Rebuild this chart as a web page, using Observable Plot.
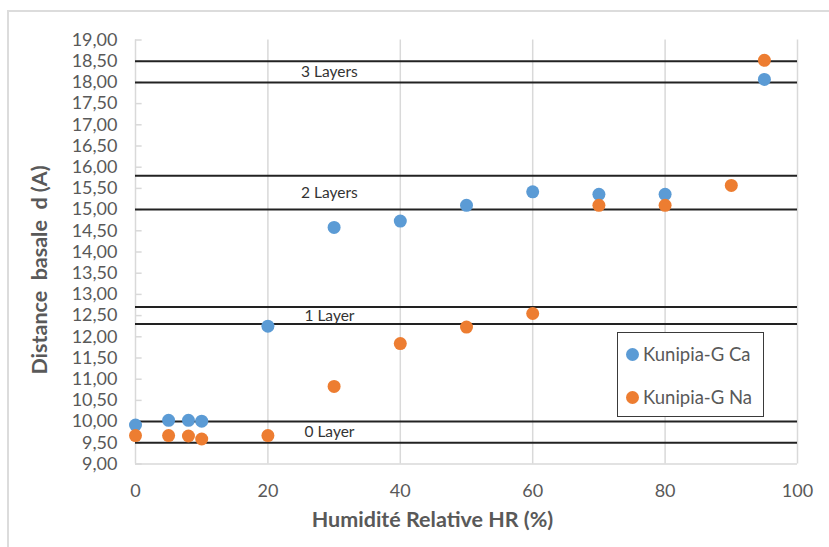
<!DOCTYPE html>
<html>
<head>
<meta charset="utf-8">
<script src="https://cdn.jsdelivr.net/npm/d3@7"></script>
<script src="https://cdn.jsdelivr.net/npm/@observablehq/plot@0.6"></script>
<style>
  html, body { margin: 0; padding: 0; background: #fff; overflow: hidden; }
  #wrap { position: relative; width: 829px; height: 547px; font-family: Lato, "Open Sans", sans-serif; }
  #frame { position: absolute; left: 7px; top: 10px; width: 900px; height: 600px;
           border-top: 2px solid #dcdcdc; border-left: 2px solid #dcdcdc; box-sizing: border-box; }
  #chart { position: absolute; left: 0; top: 0; }
  #legend { position: absolute; left: 617px; top: 332px; width: 147px; height: 85px;
            border: 1.5px solid #3a3a3a; box-sizing: border-box; background: #fff;
            color: #595959; font-size: 18.5px; }
  .item { position: absolute; left: 8px; display: flex; align-items: center; gap: 4px; white-space: nowrap; }
  .sw { width: 13px; height: 13px; border-radius: 50%; display: inline-block; }
</style>
</head>
<body>
<div id="wrap">
  <div id="frame"></div>
  <div id="chart"></div>
  <div id="legend"></div>
</div>
<script>
// Relative humidity (%) and basal spacing d (Å) for the two clays
const hrCa = [0, 5, 8, 10, 20, 30, 40, 50, 60, 70, 80, 95];
const dCa  = [9.92, 10.03, 10.03, 10.01, 12.25, 14.58, 14.73, 15.1, 15.42, 15.36, 15.36, 18.07];
const hrNa = [0, 5, 8, 10, 20, 30, 40, 50, 60, 70, 80, 90, 95];
const dNa  = [9.67, 9.67, 9.66, 9.59, 9.67, 10.83, 11.84, 12.23, 12.55, 15.1, 15.1, 15.57, 18.52];

const seriesNames = ["Kunipia-G Ca", "Kunipia-G Na"];
const seriesColors = ["#5b9bd5", "#ed7d31"];

// Hydration-state bands: lower and upper bound of each layer
const layerNames = ["0 Layer", "1 Layer", "2 Layers", "3 Layers"];
const layerLow  = [9.5, 12.3, 15.0, 18.0];
const layerHigh = [10.0, 12.7, 15.8, 18.5];
const layerLabelX = 29.3;

const yTicks = d3.range(9, 19.001, 0.5);
const xTicks = [0, 20, 40, 60, 80, 100];

const points = [
  ...hrCa.map((x, i) => ({x, y: dCa[i], s: seriesNames[0]})),
  ...hrNa.map((x, i) => ({x, y: dNa[i], s: seriesNames[1]}))
];
const bounds = [...layerLow, ...layerHigh];
const layers = layerNames.map((name, i) => ({name, y: (layerLow[i] + layerHigh[i]) / 2}));

const comma = d => d.toFixed(2).replace(".", ",");

const chart = Plot.plot({
  width: 829,
  height: 547,
  marginLeft: 135,
  marginRight: 32,
  marginTop: 39.5,
  marginBottom: 83.5,
  style: {fontFamily: "Lato, 'Open Sans', sans-serif", fontSize: "18px", color: "#595959", background: "transparent"},
  x: {domain: [0, 100]},
  y: {domain: [9, 19]},
  color: {domain: seriesNames, range: seriesColors},
  marks: [
    Plot.ruleX(xTicks.slice(1), {stroke: "#d9d9d9", strokeWidth: 1.5}),
    Plot.ruleX([0], {stroke: "#d9d9d9", strokeWidth: 1.5}),
    Plot.ruleY([9], {stroke: "#d9d9d9", strokeWidth: 1.5}),
    Plot.ruleY(yTicks, {x1: 0, x2: 1, stroke: "#d9d9d9", strokeWidth: 1.5}),
    Plot.ruleY(bounds, {x1: 0, x2: 100, stroke: "#222", strokeWidth: 2}),
    Plot.text(layers, {x: layerLabelX, y: "y", text: "name", fill: "#333", fontSize: 15.5}),
    Plot.dot(points, {x: "x", y: "y", fill: "s", r: 6.5}),
    Plot.axisY(yTicks, {tickSize: 0, tickPadding: 18, tickFormat: comma, fill: "#595959",
      label: "Distance  basale  d (A)", labelArrow: "none", labelAnchor: "center", labelOffset: 104}),
    Plot.axisX(xTicks, {tickSize: 0, tickPadding: 20, fill: "#595959",
      label: "Humidité Relative HR (%)", labelArrow: "none", labelAnchor: "center", labelOffset: 63})
  ]
});
// Axis titles: bold, and centred on the whole chart area rather than the frame
const shiftTitle = (sel, dx, dy) => sel.each(function() {
  const t = this.getAttribute("transform") || "";
  this.setAttribute("transform", `translate(${dx},${dy}) ${t}`);
});
const yTitle = d3.select(chart).selectAll("[aria-label='y-axis label']");
const xTitle = d3.select(chart).selectAll("[aria-label='x-axis label']");
[yTitle, xTitle].forEach(g => g.selectAll("text")
  .attr("font-weight", "bold").attr("fill", "#595959").attr("font-size", 21.5)
  .style("white-space", "pre"));
shiftTitle(yTitle, 0, 18);
shiftTitle(xTitle, -34, 0);
document.getElementById("chart").appendChild(chart);

const legend = document.getElementById("legend");
seriesNames.forEach((name, i) => {
  const item = document.createElement("div");
  item.className = "item";
  item.style.top = (i === 0 ? 10 : 53) + "px";
  item.innerHTML = `<span class="sw" style="background:${seriesColors[i]}"></span><span>${name}</span>`;
  legend.appendChild(item);
});
</script>
</body>
</html>
